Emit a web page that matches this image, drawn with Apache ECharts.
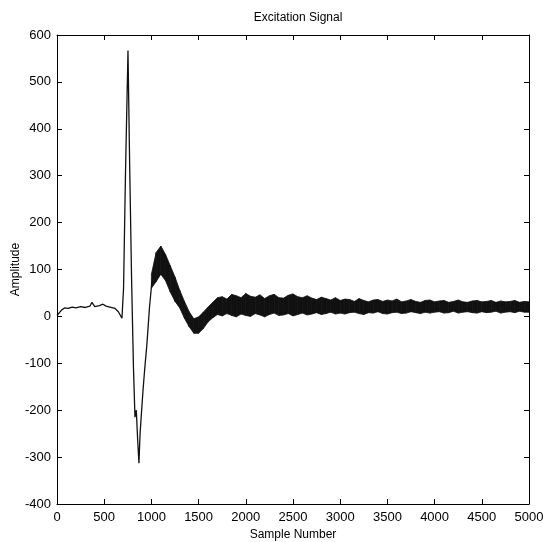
<!DOCTYPE html>
<html>
<head>
<meta charset="utf-8">
<script src="https://cdn.jsdelivr.net/npm/echarts@6/dist/echarts.min.js"></script>
<style>
  html, body { margin: 0; padding: 0; background: #fff; }
  #main { width: 543px; height: 542px; }
</style>
</head>
<body>
<div id="main"></div>
<script>
// clean part of the trace (before the noise takes over)
var traceX = [0, 20, 50, 80, 120, 160, 200, 250, 300, 350, 370, 400, 450, 487, 520, 560, 615, 650, 688, 705, 725, 752, 770, 790, 810, 826, 840, 855, 868, 880, 895, 911, 930, 953, 980, 1006];
var traceY = [2, 6, 14, 18, 17, 20, 18, 21, 19, 22, 30, 21, 23, 26, 22, 20, 17, 10, -4, 60, 300, 567, 320, 80, -110, -215, -200, -265, -313, -250, -205, -158, -110, -58, 20, 75];

// noisy part, drawn as a band between upper and lower envelope (every 50 samples)
var bandStart = 1000;
var bandStep = 50;
var bandHigh = [90, 136, 150, 132, 108, 84, 56, 32, 10, -5,
  -1, 9, 20, 30, 40, 42, 37, 47, 44, 40,
  49, 43, 41, 46, 38, 44, 47, 40, 39, 45,
  48, 42, 40, 44, 39, 36, 41, 38, 35, 40,
  34, 37, 36, 32, 38, 34, 31, 35, 36, 32,
  35, 33, 37, 31, 33, 36, 32, 30, 34, 35,
  31, 33, 34, 30, 32, 35, 31, 30, 33, 34,
  31, 32, 34, 30, 33, 31, 32, 34, 30, 32,
  31];
var bandLow = [60, 74, 90, 76, 52, 32, 18, -4, -22, -36,
  -36, -26, -12, -3, 4, 1, 6, 2, -1, 5,
  2, 0, 6, 3, -1, 4, 7, 2, 3, 6,
  1, 4, 7, 3, 5, 8, 4, 6, 9, 5,
  7, 5, 8, 9, 6, 4, 8, 7, 10, 6,
  5, 8, 9, 6, 7, 10, 8, 6, 9, 7,
  9, 10, 7, 8, 11, 7, 9, 10, 8, 7,
  10, 8, 9, 11, 7, 9, 10, 8, 11, 9,
  9];

var xTicks = { min: 0, max: 5000, interval: 500 };
var yTicks = { min: -400, max: 600, interval: 100 };

var traceData = traceX.map(function (x, i) { return [x, traceY[i]]; });
var bandData = bandHigh.map(function (h, i) { return [bandStart + i * bandStep, h, bandLow[i]]; });

var chart = echarts.init(document.getElementById('main'));
var font = 'Liberation Sans, Arial, sans-serif';
var axisCommon = {
  axisLine: { show: true, onZero: false, lineStyle: { color: '#000', width: 1 } },
  axisTick: { show: true, inside: true, length: 5, lineStyle: { color: '#000' } },
  splitLine: { show: false }
};
var plain = function (v) { return String(v); };

chart.setOption({
  animation: false,
  backgroundColor: '#fff',
  title: {
    text: 'Excitation Signal',
    left: 293, top: 7, textAlign: 'center',
    textStyle: { fontFamily: font, fontSize: 12, fontWeight: 'normal', color: '#000' }
  },
  grid: { left: 57, right: 14, top: 35, bottom: 38, containLabel: false, outerBoundsMode: 'none' },
  xAxis: [
    Object.assign({
      type: 'value', min: xTicks.min, max: xTicks.max, interval: xTicks.interval,
      name: 'Sample Number', nameLocation: 'middle', nameGap: 24,
      nameTextStyle: { fontFamily: font, fontSize: 12, color: '#000' },
      axisLabel: { fontFamily: font, fontSize: 13, color: '#000', margin: 7, formatter: plain }
    }, axisCommon),
    Object.assign({
      type: 'value', position: 'top', min: xTicks.min, max: xTicks.max, interval: xTicks.interval,
      axisLabel: { show: false }
    }, axisCommon)
  ],
  yAxis: [
    Object.assign({
      type: 'value', min: yTicks.min, max: yTicks.max, interval: yTicks.interval,
      name: 'Amplitude', nameLocation: 'middle', nameGap: 35, nameMoveOverlap: false,
      nameTextStyle: { fontFamily: font, fontSize: 12, color: '#000' },
      axisLabel: { fontFamily: font, fontSize: 13, color: '#000', margin: 6, formatter: plain }
    }, axisCommon),
    Object.assign({
      type: 'value', position: 'right', min: yTicks.min, max: yTicks.max, interval: yTicks.interval,
      axisLabel: { show: false }
    }, axisCommon)
  ],
  series: [
    {
      type: 'line',
      data: traceData,
      showSymbol: false,
      lineStyle: { color: '#111', width: 1.3 }
    },
    {
      type: 'custom',
      data: bandData,
      encode: { x: 0, y: [1, 2] },
      renderItem: function (params, api) {
        var i = params.dataIndex;
        if (i >= bandData.length - 1) return;
        var a = bandData[i], b = bandData[i + 1];
        var pts = [
          api.coord([a[0], a[1]]),
          api.coord([b[0], b[1]]),
          api.coord([b[0], b[2]]),
          api.coord([a[0], a[2]])
        ];
        return {
          type: 'polygon',
          shape: { points: pts },
          style: { fill: '#111', stroke: '#111', lineWidth: 0.8 }
        };
      }
    }
  ]
});
</script>
</body>
</html>
